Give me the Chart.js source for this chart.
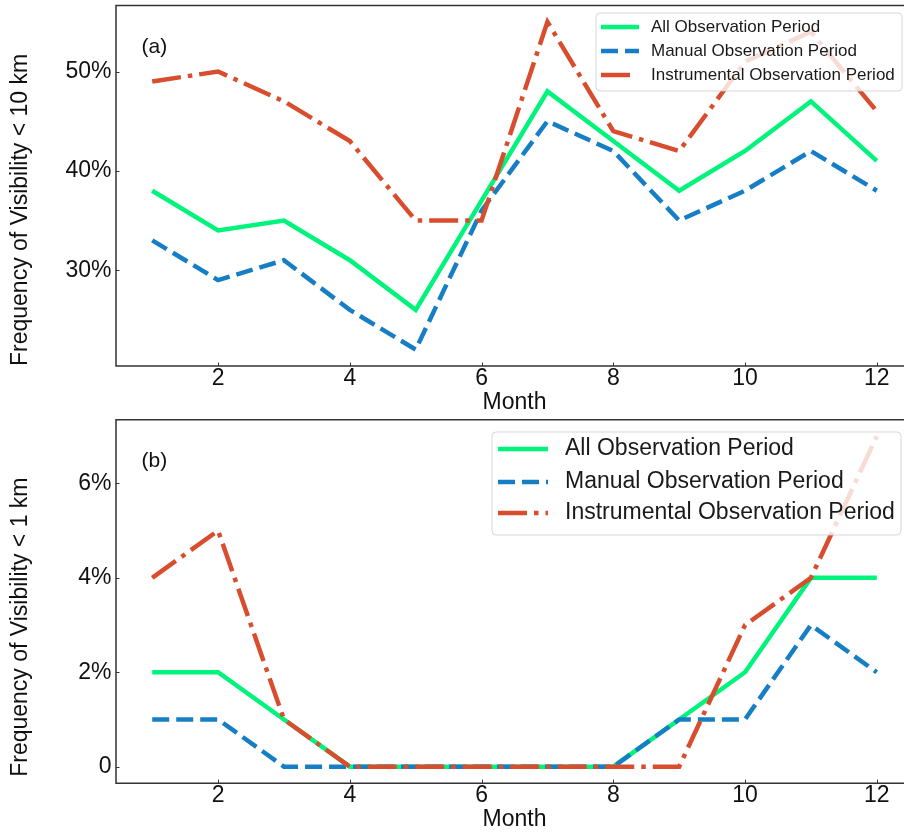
<!DOCTYPE html>
<html>
<head>
<meta charset="utf-8">
<title>Visibility frequency</title>
<script src="https://cdn.jsdelivr.net/npm/chart.js@4.4.0/dist/chart.umd.min.js"></script>
<style>
html, body { margin: 0; padding: 0; background: #fff; overflow: hidden; }
#wrap { position: relative; width: 904px; height: 835px; overflow: hidden; }
canvas { position: absolute; left: 0; }
</style>
</head>
<body>
<div id="wrap">
	<canvas id="chartA" width="930" height="415" style="top:0"></canvas>
	<canvas id="chartB" width="930" height="420" style="top:415px"></canvas>
</div>
<script>
// data
var months = [1, 2, 3, 4, 5, 6, 7, 8, 9, 10, 11, 12];
var seriesNames = ['All Observation Period', 'Manual Observation Period', 'Instrumental Observation Period'];

// (a) frequency of visibility < 10 km, in %
var allA    = [38, 34, 35, 31, 26, 37, 48, 43, 38, 42, 47, 41];
var manualA = [33, 29, 31, 26, 22, 36, 45, 42, 35, 38, 42, 38];
var instrA  = [49, 50, 47, 43, 35, 35, 55, 44, 42, 51, 54, 46];

// (b) frequency of visibility < 1 km, in %
var allB    = [2, 2, 1, 0, 0, 0, 0, 0, 1, 2, 4, 4];
var manualB = [1, 1, 0, 0, 0, 0, 0, 0, 1, 1, 3, 2];
var instrB  = [4, 5, 1, 0, 0, 0, 0, 0, 0, 3, 4, 7];

var monthTicks = [2, 4, 6, 8, 10, 12];
var ticksA = [30, 40, 50];
var ticksB = [0, 2, 4, 6];

var FONT = '"Liberation Sans", Arial, Helvetica, sans-serif';
var colors = ['#00f47c', '#167ec4', '#d84d2e'];
var dashes = [[], [17, 7], [29, 7, 4.5, 7]];

function points(vals) {
	return months.map(function(m, i) { return {x: m, y: vals[i]}; });
}

// frame, inward ticks, panel letter and the in-axes legend
var panelPlugin = {
	id: 'panel',
	afterDatasetsDraw: function(chart, args, opts) {
		var ctx = chart.ctx;
		var a = chart.chartArea;
		var xs = chart.scales.x, ys = chart.scales.y;
		ctx.save();

		// ticks pointing into the axes
		ctx.strokeStyle = '#333';
		ctx.lineWidth = 1;
		monthTicks.forEach(function(v) {
			var px = Math.round(xs.getPixelForValue(v)) + 0.5;
			ctx.beginPath();
			ctx.moveTo(px, a.bottom);
			ctx.lineTo(px, a.bottom - 3.5);
			ctx.stroke();
		});
		opts.yTicks.forEach(function(v) {
			var py = Math.round(ys.getPixelForValue(v)) + 0.5;
			ctx.beginPath();
			ctx.moveTo(a.left, py);
			ctx.lineTo(a.left + 3.5, py);
			ctx.stroke();
		});

		// frame (the right side falls outside the picture)
		ctx.lineWidth = 1.5;
		ctx.beginPath();
		ctx.moveTo(chart.width, a.top);
		ctx.lineTo(a.left, a.top);
		ctx.lineTo(a.left, a.bottom);
		ctx.lineTo(chart.width, a.bottom);
		ctx.stroke();

		// panel letter
		ctx.fillStyle = '#111';
		ctx.font = opts.letterSize + 'px ' + FONT;
		ctx.textBaseline = 'middle';
		ctx.textAlign = 'left';
		ctx.fillText(opts.letter, 141.5, opts.letterY);

		// legend
		var L = opts.legend;
		ctx.beginPath();
		if (ctx.roundRect) ctx.roundRect(L.x, L.y, L.w, L.h, 4);
		else ctx.rect(L.x, L.y, L.w, L.h);
		ctx.fillStyle = 'rgba(255,255,255,0.8)';
		ctx.fill();
		ctx.strokeStyle = 'rgba(204,204,204,0.8)';
		ctx.lineWidth = 1;
		ctx.stroke();

		ctx.font = L.size + 'px ' + FONT;
		seriesNames.forEach(function(name, i) {
			var y = L.rows[i];
			ctx.strokeStyle = colors[i];
			ctx.lineWidth = 4.5;
			ctx.lineCap = 'butt';
			ctx.setLineDash(dashes[i]);
			ctx.beginPath();
			ctx.moveTo(L.s0, y);
			ctx.lineTo(L.s1[i], y);
			ctx.stroke();
			ctx.setLineDash([]);
			ctx.fillStyle = '#1a1a1a';
			ctx.fillText(name, L.tx, y);
		});
		ctx.restore();
	}
};

function makeChart(id, all, manual, instr, yMin, yMax, yTicks, yTitle, cfg) {
	var sets = [all, manual, instr].map(function(vals, i) {
		return {
			label: seriesNames[i],
			data: points(vals),
			borderColor: colors[i],
			borderWidth: 4.5,
			borderDash: dashes[i],
			borderCapStyle: 'butt',
			borderJoinStyle: 'miter',
			pointRadius: 0,
			tension: 0,
			fill: false,
			order: 3 - i
		};
	});

	return new Chart(document.getElementById(id), {
		type: 'line',
		data: { datasets: sets },
		options: {
			responsive: false,
			animation: false,
			layout: { padding: { left: 0, top: cfg.top, right: 17, bottom: 0 } },
			plugins: {
				legend: { display: false },
				tooltip: { enabled: false },
				panel: cfg.panel
			},
			scales: {
				x: {
					type: 'linear',
					min: 0.45,
					max: 12.55,
					afterBuildTicks: function(s) { s.ticks = monthTicks.map(function(v) { return {value: v}; }); },
					afterFit: function(s) { s.height = cfg.xHeight; s.paddingLeft = 0; s.paddingRight = 0; },
					grid: { display: false, drawTicks: false },
					border: { display: false },
					ticks: {
						color: '#111',
						padding: 0,
						maxRotation: 0,
						font: { family: FONT, size: 23, lineHeight: 1.1 },
						callback: function(v) { return String(v); }
					},
					title: {
						display: true,
						text: 'Month',
						color: '#111',
						font: { family: FONT, size: 23, lineHeight: 1 },
						padding: { top: 0, bottom: cfg.titlePad }
					}
				},
				y: {
					min: yMin,
					max: yMax,
					afterBuildTicks: function(s) { s.ticks = yTicks.map(function(v) { return {value: v}; }); },
					afterFit: function(s) { s.width = 116; s.paddingTop = 0; s.paddingBottom = 0; },
					grid: { display: false, drawTicks: false },
					border: { display: false },
					ticks: {
						color: '#111',
						padding: 4.5,
						font: { family: FONT, size: 23 },
						callback: function(v) { return v === 0 ? '0' : v + '%'; }
					},
					title: {
						display: true,
						text: yTitle,
						align: 'start',
						color: '#111',
						font: { family: FONT, size: 23, lineHeight: 1 },
						padding: { top: 9, bottom: 0 }
					}
				}
			}
		},
		plugins: [panelPlugin]
	});
}

makeChart('chartA', allA, manualA, instrA, 20.35, 56.65, ticksA, 'Frequency of Visibility < 10 km', {
	top: 5.5, xHeight: 49, titlePad: 1,
	panel: {
		yTicks: ticksA, letter: '(a)', letterY: 47, letterSize: 21,
		legend: { x: 596, y: 13, w: 306, h: 78, rows: [27, 51, 75], s0: 601, s1: [639, 639, 635], tx: 651, size: 17 }
	}
});

makeChart('chartB', allB, manualB, instrB, -0.35, 7.35, ticksB, ' Frequency of Visibility < 1 km', {
	top: 4.7, xHeight: 51.8, titlePad: 3.5,
	panel: {
		yTicks: ticksB, letter: '(b)', letterY: 46, letterSize: 21,
		legend: { x: 492, y: 17, w: 409, h: 103, rows: [34, 67, 98], s0: 498, s1: [548, 548, 548], tx: 565, size: 23 }
	}
});
</script>
</body>
</html>
